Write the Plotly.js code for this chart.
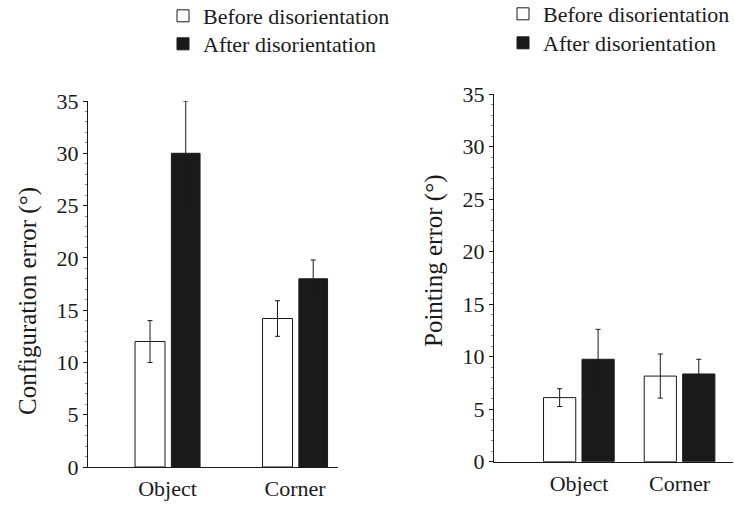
<!DOCTYPE html>
<html><head><meta charset="utf-8">
<script src="https://cdn.plot.ly/plotly-3.0.1.min.js"></script>
<style>
html,body{margin:0;padding:0;background:#fff}
#chart{width:734px;height:505px}
#chart svg text{font-family:"Liberation Serif","Times New Roman",serif !important;}
</style>
</head><body><div id="chart"></div>
<script>
const categories = ["Object", "Corner"];
const seriesNames = ["Before disorientation", "After disorientation"];
const yTitles = ["Configuration error (°)", "Pointing error (°)"];
const configBefore = [12.0, 14.2];
const configBeforeErr = [2.0, 1.7];
const configAfter = [30.0, 18.0];
const configAfterErr = [5.0, 1.8];
const pointBefore = [6.1, 8.15];
const pointBeforeErr = [0.85, 2.1];
const pointAfter = [9.75, 8.35];
const pointAfterErr = [2.85, 1.4];
const yTicks = [0, 5, 10, 15, 20, 25, 30, 35];

const serif = "Liberation Serif, Times New Roman, serif";
const ink = "#1a1a1a";

function barTrace(y, err, name, fill, xa, ya, legend, offset, width) {
  return {
    type: "bar", x: categories, y: y, name: name, xaxis: xa, yaxis: ya,
    legend: legend, showlegend: true,
    offset: offset, width: width,
    marker: {color: fill, line: {color: ink, width: 1}},
    error_y: {type: "data", array: err, visible: true, color: ink, thickness: 1, width: 2.5},
    hoverinfo: "skip"
  };
}

const data = [
  barTrace(configBefore, configBeforeErr, seriesNames[0], "#ffffff", "x", "y", "legend", -0.255, 0.235),
  barTrace(configAfter, configAfterErr, seriesNames[1], ink, "x", "y", "legend2", 0.03, 0.225),
  barTrace(pointBefore, pointBeforeErr, seriesNames[0], "#ffffff", "x2", "y2", "legend3", -0.352, 0.32),
  barTrace(pointAfter, pointAfterErr, seriesNames[1], ink, "x2", "y2", "legend4", 0.03, 0.32)
];

function yAxis(dom, anchor) {
  return {
    domain: dom, anchor: anchor,
    range: [0, 35], tickvals: yTicks, ticks: "outside", ticklen: 4, tickcolor: ink,
    showline: true, linecolor: ink, linewidth: 1, showgrid: false, zeroline: false,
    tickfont: {family: serif, size: 22, color: ink}, automargin: false,
    minor: {dtick: 1, ticks: "outside", ticklen: 2, tickcolor: "#888", showgrid: false}
  };
}
function xAxis(dom, anchor, range) {
  return {
    domain: dom, anchor: anchor, range: range,
    type: "category", ticks: "", showline: true, linecolor: ink, linewidth: 1,
    showgrid: false, zeroline: false, tickfont: {family: serif, size: 22, color: ink},
    ticklabelstandoff: 2, automargin: false
  };
}
function legendAt(xpx, ypx) {
  return {
    xref: "container", yref: "container",
    x: xpx/734, y: 1 - ypx/505, font: {family: serif, size: 22, color: ink}, bgcolor: "rgba(0,0,0,0)",
    orientation: "v", xanchor: "left", yanchor: "middle", itemclick: false
  };
}
function yTitle(text, xpx, ypx) {
  return {
    text: text, xref: "paper", yref: "paper", x: xpx/734, y: 1 - ypx/505,
    xanchor: "center", yanchor: "middle", textangle: -90, showarrow: false,
    font: {family: serif, size: 25, color: ink}
  };
}

const layout = {
  width: 734, height: 505,
  margin: {l: 0, r: 0, t: 0, b: 0, autoexpand: false},
  paper_bgcolor: "#fff", plot_bgcolor: "#fff",
  font: {family: serif, color: ink},
  xaxis: xAxis([88/734, 338/734], "y", [-0.624, 1.337]),
  yaxis: yAxis([38/505, 404/505], "x"),
  xaxis2: xAxis([494/734, 733/734], "y2", [-0.844, 1.53]),
  yaxis2: yAxis([43.3/505, 411/505], "x2"),
  legend: legendAt(163, 16),
  legend2: legendAt(163, 44),
  legend3: legendAt(503, 14),
  legend4: legendAt(503, 43),
  annotations: [yTitle(yTitles[0], 28, 301), yTitle(yTitles[1], 434, 261)]
};

Plotly.newPlot("chart", data, layout, {displayModeBar: false, staticPlot: true});
</script>
</body></html>
